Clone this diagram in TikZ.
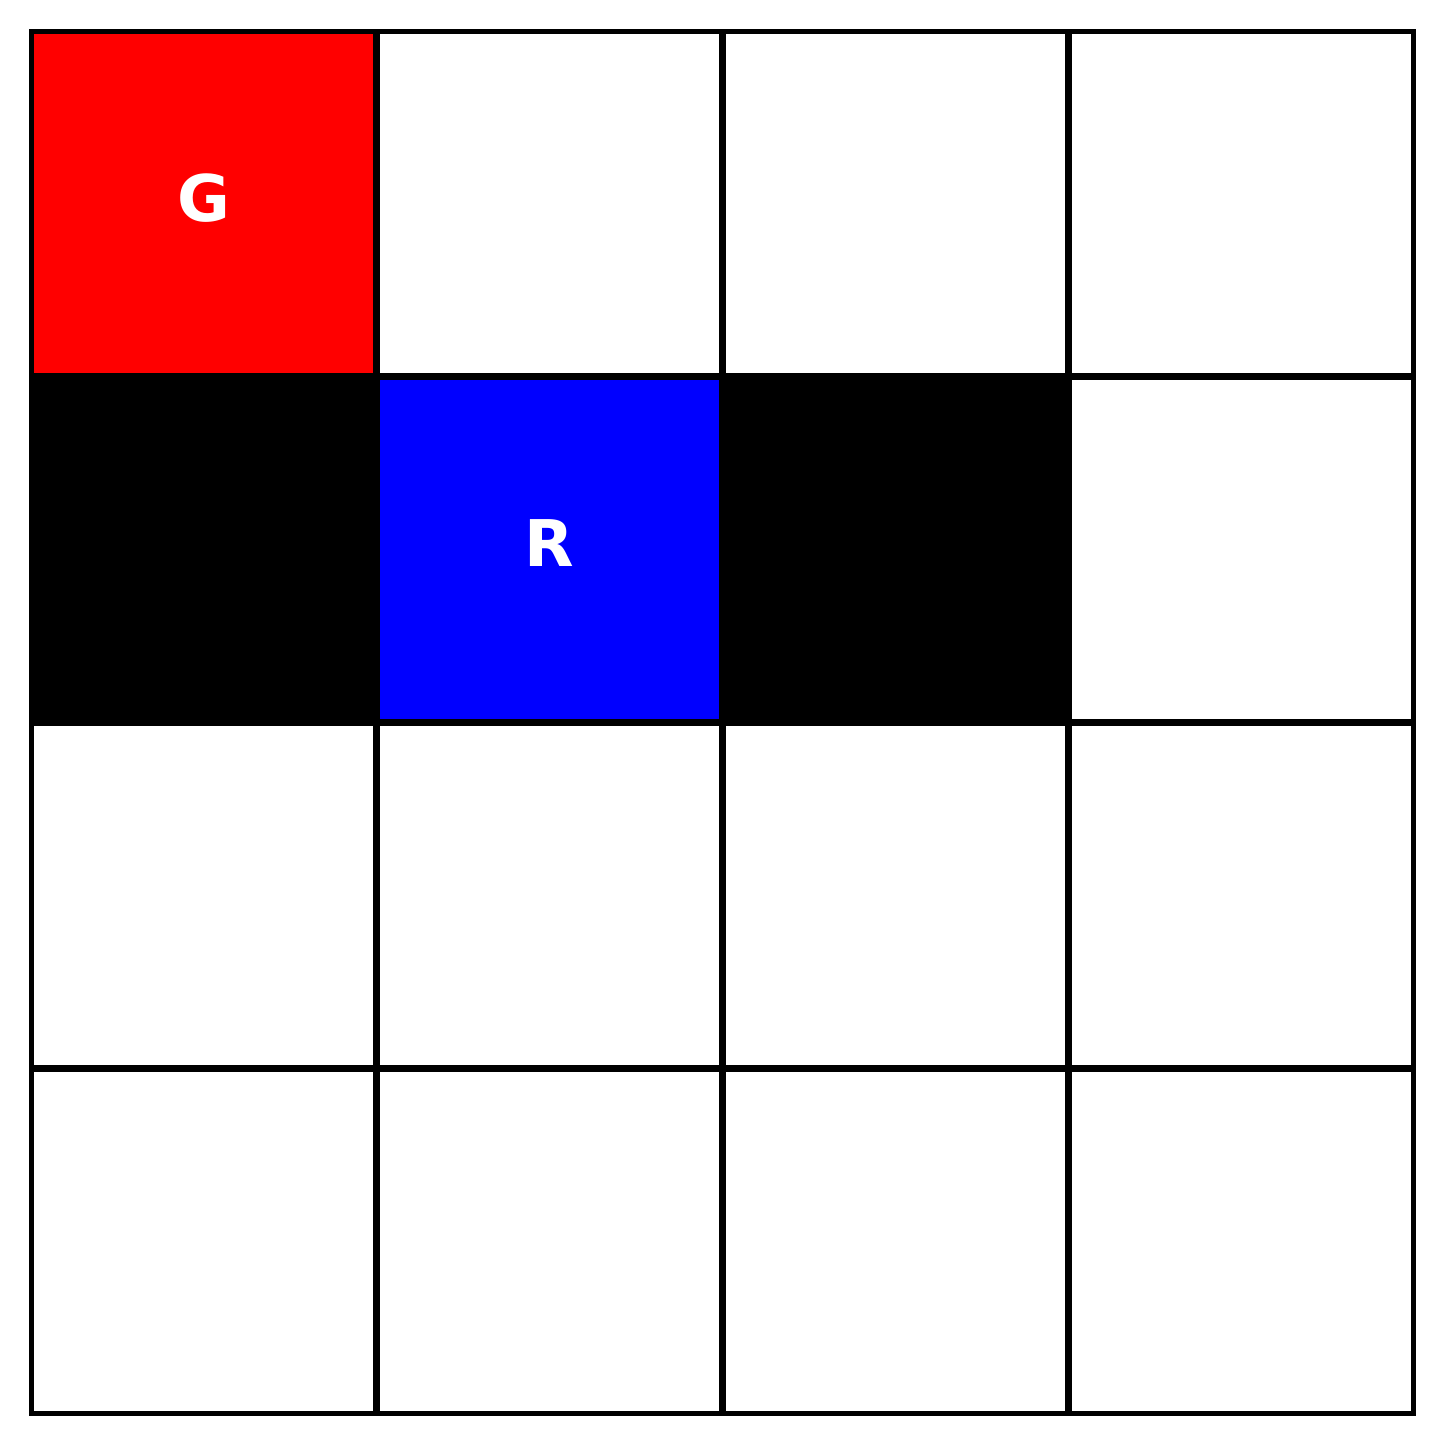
\documentclass[tikz,border=0pt]{standalone}
\usepackage{fontspec}
\setmainfont{DejaVu Sans}
\usetikzlibrary{positioning}
\tikzset{
  cellbox/.style={draw=black, line width=0.055cm, minimum size=3.44cm, inner sep=0pt,
    text depth=0.12cm, font=\fontsize{18.3}{20}\selectfont\bfseries, text=white}
}

\begin{document}
\begin{tikzpicture}[x=0.01cm, y=-0.01cm]
  \useasboundingbox (0,0) rectangle (1446,1446);
  % grid cells, row by row
  \foreach \r/\c/\col/\lab in {0/0/red/G, 0/1/white/, 0/2/white/, 0/3/white/,
      1/0/black/, 1/1/blue/R, 1/2/black/, 1/3/white/,
      2/0/white/, 2/1/white/, 2/2/white/, 2/3/white/,
      3/0/white/, 3/1/white/, 3/2/white/, 3/3/white/} {
    \node[cellbox, fill=\col] (cell\r\c) at ({203.5+346*\c},{203.5+346*\r}) {\lab};
  }
\end{tikzpicture}
\end{document}
